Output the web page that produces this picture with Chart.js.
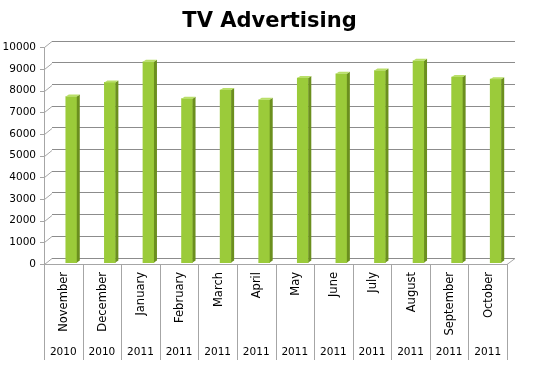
<!DOCTYPE html>
<html>
<head>
<meta charset="utf-8">
<script src="https://cdn.jsdelivr.net/npm/chart.js@4"></script>
<style>
  html, body { margin: 0; padding: 0; background: #fff; }
  #wrap { width: 539px; height: 372px; }
</style>
</head>
<body>
<div id="wrap"><canvas id="myChart"></canvas></div>
<script>
  // data
  const months = ["November", "December", "January", "February", "March", "April",
    "May", "June", "July", "August", "September", "October"];
  const years = ["2010", "2010", "2011", "2011", "2011", "2011",
    "2011", "2011", "2011", "2011", "2011", "2011"];
  const adSpend = [7450, 8100, 9050, 7350, 7750, 7300, 8300, 8500, 8650, 9100, 8350, 8250];

  // fake depth, px
  const DX = 8, DY = 6;

  // draws the side + top of each bar so it looks like excel 3d columns
  const barDepth = {
    id: "barDepth",
    afterDatasetsDraw(chart) {
      const ctx = chart.ctx;
      chart.getDatasetMeta(0).data.forEach(bar => {
        const half = bar.width / 2;
        const r = bar.x + half, l = bar.x - half;
        ctx.save();
        ctx.fillStyle = "#6b8f1e";
        ctx.beginPath();
        ctx.moveTo(r, bar.y);
        ctx.lineTo(r + 3, bar.y - 2);
        ctx.lineTo(r + 3, bar.base - 2);
        ctx.lineTo(r, bar.base);
        ctx.closePath();
        ctx.fill();
        ctx.fillStyle = "#b9df69";
        ctx.beginPath();
        ctx.moveTo(l, bar.y);
        ctx.lineTo(l + 3, bar.y - 2);
        ctx.lineTo(r + 3, bar.y - 2);
        ctx.lineTo(r, bar.y);
        ctx.closePath();
        ctx.fill();
        ctx.restore();
      });
    }
  };

  // front axis, floor and the table lines under the plot
  const frame = {
    id: "frame",
    beforeDatasetsDraw(chart) {
      const ctx = chart.ctx;
      const a = chart.chartArea;
      const ys = chart.scales.y;
      const fl = a.left - DX, fr = a.right - DX, fb = a.bottom + DY;
      ctx.save();
      ctx.strokeStyle = "#a6a6a6";
      ctx.lineWidth = 1;
      ctx.beginPath();
      // front y axis
      ctx.moveTo(fl + 0.5, ys.getPixelForValue(10000) + DY);
      ctx.lineTo(fl + 0.5, fb);
      ys.ticks.forEach(t => {
        const py = Math.round(ys.getPixelForValue(t.value)) + 0.5;
        ctx.moveTo(fl - 4, py + DY);
        ctx.lineTo(fl + 0.5, py + DY);
        ctx.lineTo(a.left, py);
      });
      // floor
      ctx.moveTo(fl, fb + 0.5);
      ctx.lineTo(fr, fb + 0.5);
      ctx.lineTo(a.right, a.bottom + 0.5);
      // dividers between categories
      const w = (a.right - a.left) / months.length;
      for (let i = 0; i <= months.length; i++) {
        const px = Math.round(fl + i * w) + 0.5;
        ctx.moveTo(px, fb);
        ctx.lineTo(px, 360);
      }
      ctx.stroke();
      ctx.restore();
    }
  };

  const config = {
    type: "bar",
    data: {
      labels: months,
      datasets: [
        {
          label: "TV Advertising",
          data: adSpend,
          backgroundColor: "#9bcb3a",
          borderWidth: 0,
          barThickness: 11,
          base: -210,
          clip: false,
        },
      ],
    },
    options: {
      responsive: true,
      maintainAspectRatio: false,
      animation: false,
      layout: { padding: { left: 0, right: 0, top: 0, bottom: 10 } },
      plugins: {
        legend: { display: false },
        tooltip: { enabled: false },
        title: {
          display: true,
          text: "TV Advertising",
          color: "#000",
          font: { family: "DejaVu Sans", size: 21, weight: "bold" },
          padding: { top: 9, bottom: 7 },
        },
      },
      scales: {
        x: {
          type: "category",
          position: "bottom",
          offset: true,
          grid: { display: false, drawTicks: false },
          border: { display: false },
          ticks: {
            autoSkip: false,
            minRotation: 90,
            maxRotation: 90,
            padding: 14,
            labelOffset: -7,
            color: "#000",
            font: { family: "DejaVu Sans", size: 11.5 },
          },
          afterFit(s) { s.height = 80; },
        },
        x2: {
          type: "category",
          position: "bottom",
          labels: years,
          offset: true,
          grid: { display: false, drawTicks: false },
          border: { display: false },
          ticks: {
            autoSkip: false,
            maxRotation: 0,
            padding: 8,
            labelOffset: -8,
            color: "#000",
            font: { family: "DejaVu Sans", size: 10.5 },
          },
          afterFit(s) { s.height = 24; },
        },
        y: {
          min: 0,
          max: 10000,
          grid: { color: "#8c8c8c", lineWidth: 1, drawTicks: false, tickLength: 0 },
          border: { display: false },
          ticks: {
            stepSize: 1000,
            padding: 16,
            labelOffset: 6,
            color: "#000",
            font: { family: "DejaVu Sans", size: 10.5 },
            callback: v => String(v),
          },
          afterFit(s) { s.width = 52; },
        },
        // empty right axis, only keeps the plot clear of the right edge
        yRight: {
          position: "right",
          grid: { display: false, drawTicks: false },
          border: { display: false },
          ticks: { display: false },
          afterFit(s) { s.width = 24; },
        },
      },
    },
    plugins: [frame, barDepth],
  };
  var myChart = new Chart(document.getElementById("myChart"), config);
</script>
</body>
</html>
